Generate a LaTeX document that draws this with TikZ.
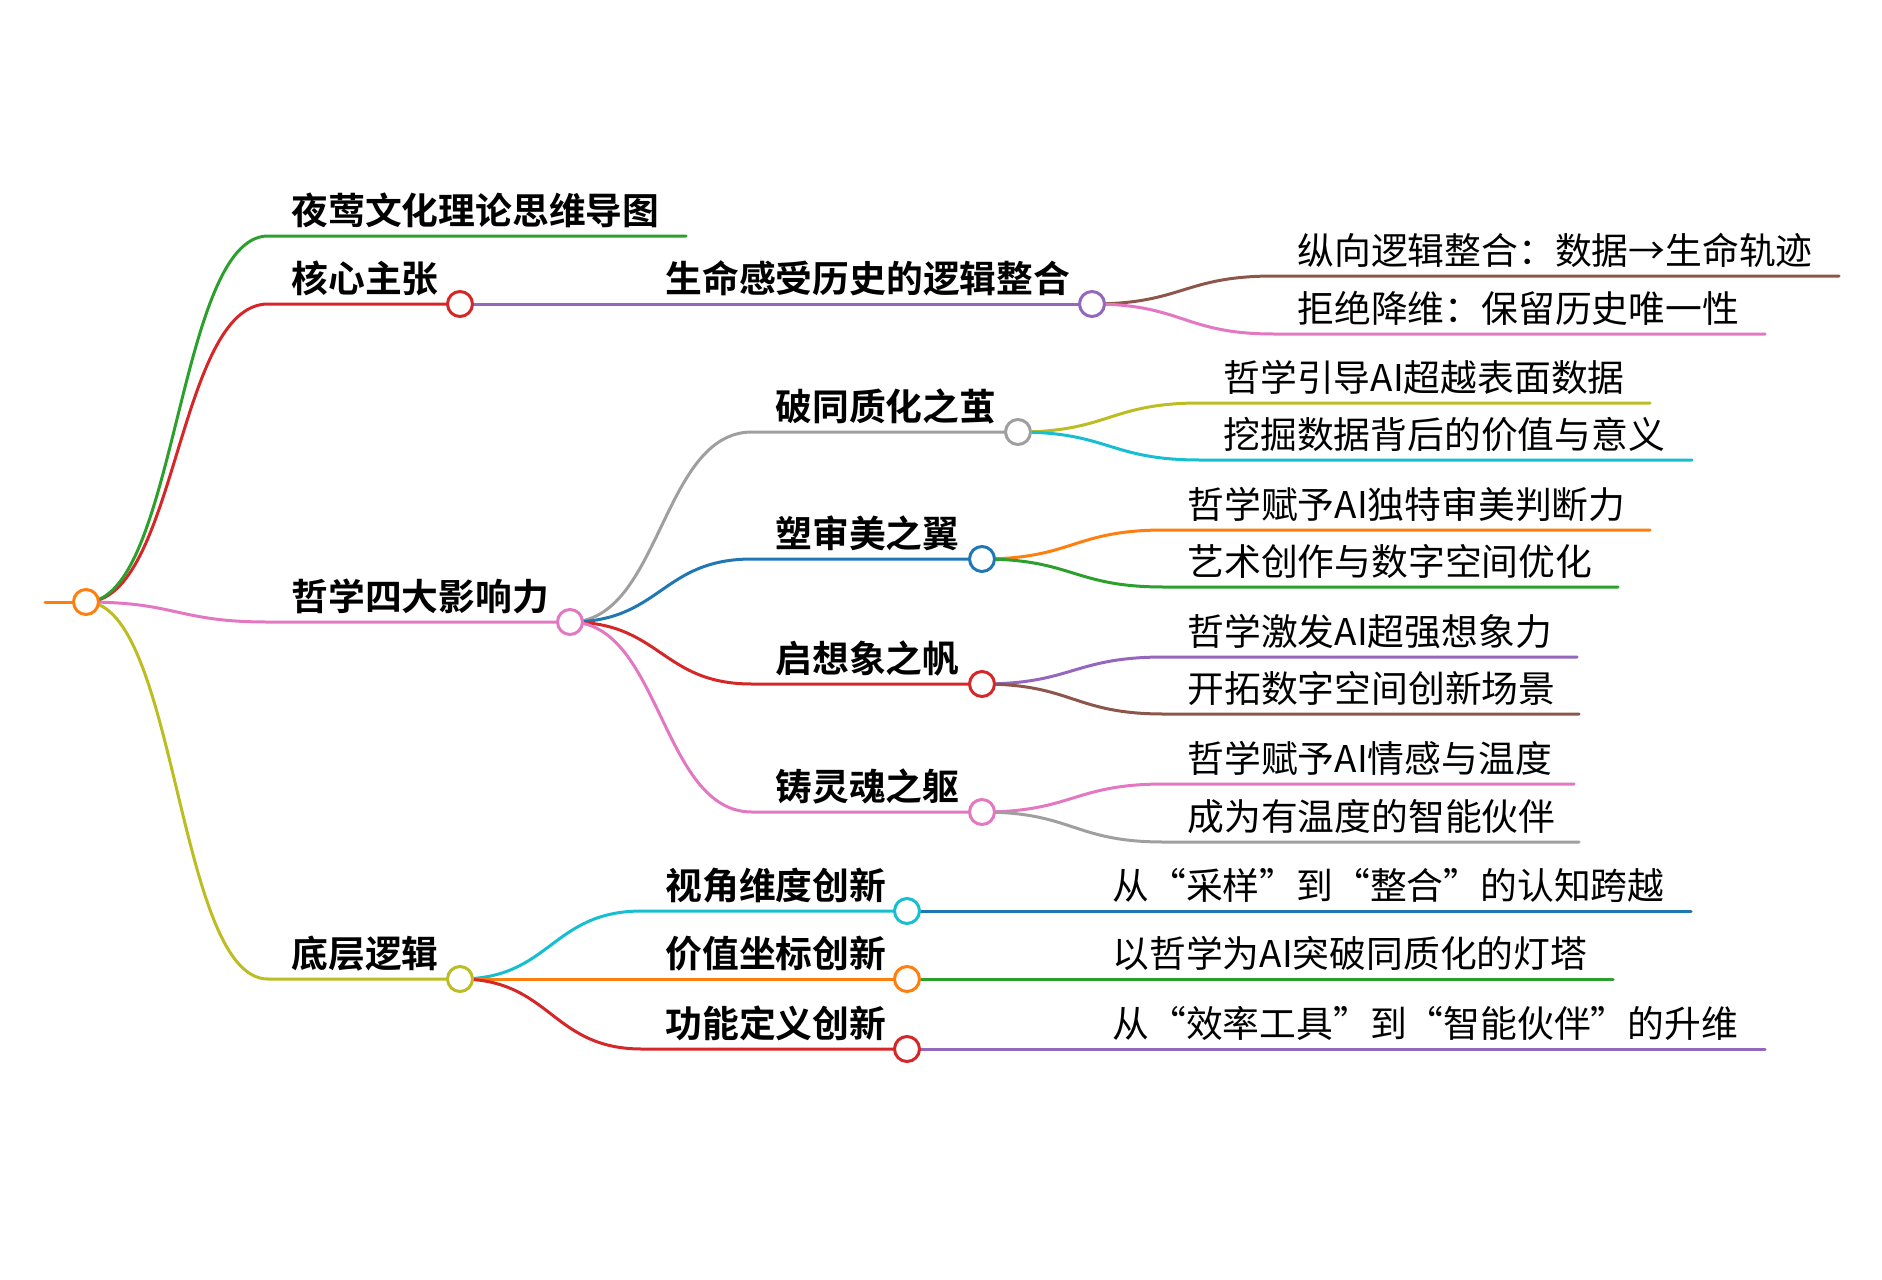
\documentclass[tikz,border=0pt]{standalone}
\usepackage{fontspec}
\setmainfont{Noto Sans CJK SC}[BoldFont={Noto Sans CJK SC Bold}]
\usetikzlibrary{backgrounds}
\definecolor{mblue}{HTML}{1F77B4}
\definecolor{morange}{HTML}{FF7F0E}
\definecolor{mgreen}{HTML}{2CA02C}
\definecolor{mred}{HTML}{D62728}
\definecolor{mpurple}{HTML}{9467BD}
\definecolor{mbrown}{HTML}{8C564B}
\definecolor{mpink}{HTML}{E377C2}
\definecolor{mgray}{HTML}{9F9F9F}
\definecolor{molive}{HTML}{BCBD22}
\definecolor{mcyan}{HTML}{17BECF}
\begin{document}
\begin{tikzpicture}[x=0.5pt,y=-0.5pt,line cap=round,line width=1.5pt]
	\tikzset{every node/.style={inner sep=0pt,font=\fontsize{18.4pt}{20pt}\selectfont},
		dot/.style={circle,draw,fill=white,minimum size=12.5pt,line width=1.5pt},
		leaf/.style={anchor=base west},
		key/.style={anchor=base west,font=\fontsize{18.4pt}{20pt}\selectfont\bfseries},
		wire/.style={line width=1.5pt,line cap=round},
		link/.style={to path={.. controls +(91,0) and +(-91,0) .. (\tikztotarget)}}}
	\useasboundingbox (0,0) rectangle (1882,1279);
	% circles
	\node[dot,draw=morange] (root) at (86,602) {};
	\node[dot,draw=mred] (hx) at (460,304) {};
	\node[dot,draw=mpink] (zx) at (570,622) {};
	\node[dot,draw=molive] (dc) at (460,979) {};
	\node[dot,draw=mpurple] (sm) at (1092,304) {};
	\node[dot,draw=mgray] (p1) at (1018,432) {};
	\node[dot,draw=mblue] (p2) at (982,559) {};
	\node[dot,draw=mred] (p3) at (982,684) {};
	\node[dot,draw=mpink] (p4) at (982,812) {};
	\node[dot,draw=mcyan] (d1) at (907,911) {};
	\node[dot,draw=morange] (d2) at (907,979) {};
	\node[dot,draw=mred] (d3) at (907,1049) {};
	\coordinate (stub) at (45,602);
	% title
	\coordinate (t0-s) at (268,236);
	\coordinate (t0-e) at (686,236);
	\node[key] (t0) at (290,224.5) {夜莺文化理论思维导图};
	% branches
	\foreach \nm/\up/\col/\x/\y/\txt in {hx/root/mred/268/304/核心主张,
		zx/root/mpink/268/622/哲学四大影响力,
		dc/root/molive/268/979/底层逻辑,
		sm/hx/mpurple/642/304/生命感受历史的逻辑整合,
		p1/zx/mgray/752/432/破同质化之茧,
		p2/zx/mblue/752/559/塑审美之翼,
		p3/zx/mred/752/684/启想象之帆,
		p4/zx/mpink/752/812/铸灵魂之躯,
		d1/dc/mcyan/642/911/视角维度创新,
		d2/dc/morange/642/979/价值坐标创新,
		d3/dc/mred/642/1049/功能定义创新}
	{
		\coordinate (\nm-s) at (\x,\y);
		\node[key] (\nm-t) at (\x+22,\y-11.5) {\txt};
		\begin{scope}[on background layer]
			\draw[wire,\col] (\up.center) to[link] (\nm-s) -- (\nm.center);
		\end{scope}
	}
	% leaves
	\foreach \nm/\up/\col/\x/\y/\e/\txt in {a1/sm/mbrown/1274/276/1839/纵向逻辑整合：数据→生命轨迹,
		a2/sm/mpink/1274/334/1765/拒绝降维：保留历史唯一性,
		b1/p1/molive/1200/403/1650/哲学引导AI超越表面数据,
		b2/p1/mcyan/1200/460/1692/挖掘数据背后的价值与意义,
		b3/p2/morange/1164/530/1650/哲学赋予AI独特审美判断力,
		b4/p2/mgreen/1164/587/1618/艺术创作与数字空间优化,
		b5/p3/mpurple/1164/657/1577/哲学激发AI超强想象力,
		b6/p3/mbrown/1164/714/1579/开拓数字空间创新场景,
		b7/p4/mpink/1164/784/1574/哲学赋予AI情感与温度,
		b8/p4/mgray/1164/842/1579/成为有温度的智能伙伴,
		e1/d1/mblue/1089/911/1691/从“采样”到“整合”的认知跨越,
		e2/d2/mgreen/1089/979/1613/以哲学为AI突破同质化的灯塔,
		e3/d3/mpurple/1089/1049/1765/从“效率工具”到“智能伙伴”的升维}
	{
		\coordinate (\nm-s) at (\x,\y);
		\coordinate (\nm-e) at (\e,\y);
		\node[leaf] (\nm) at (\x+22,\y-11.5) {\txt};
		\begin{scope}[on background layer]
			\draw[wire,\col] (\up.center) to[link] (\nm-s) -- (\nm-e);
		\end{scope}
	}
	\begin{scope}[on background layer]
		\draw[wire,morange] (stub) -- (root.center);
		\draw[wire,mgreen] (root.center) to[link] (t0-s) -- (t0-e);
	\end{scope}
\end{tikzpicture}
\end{document}
